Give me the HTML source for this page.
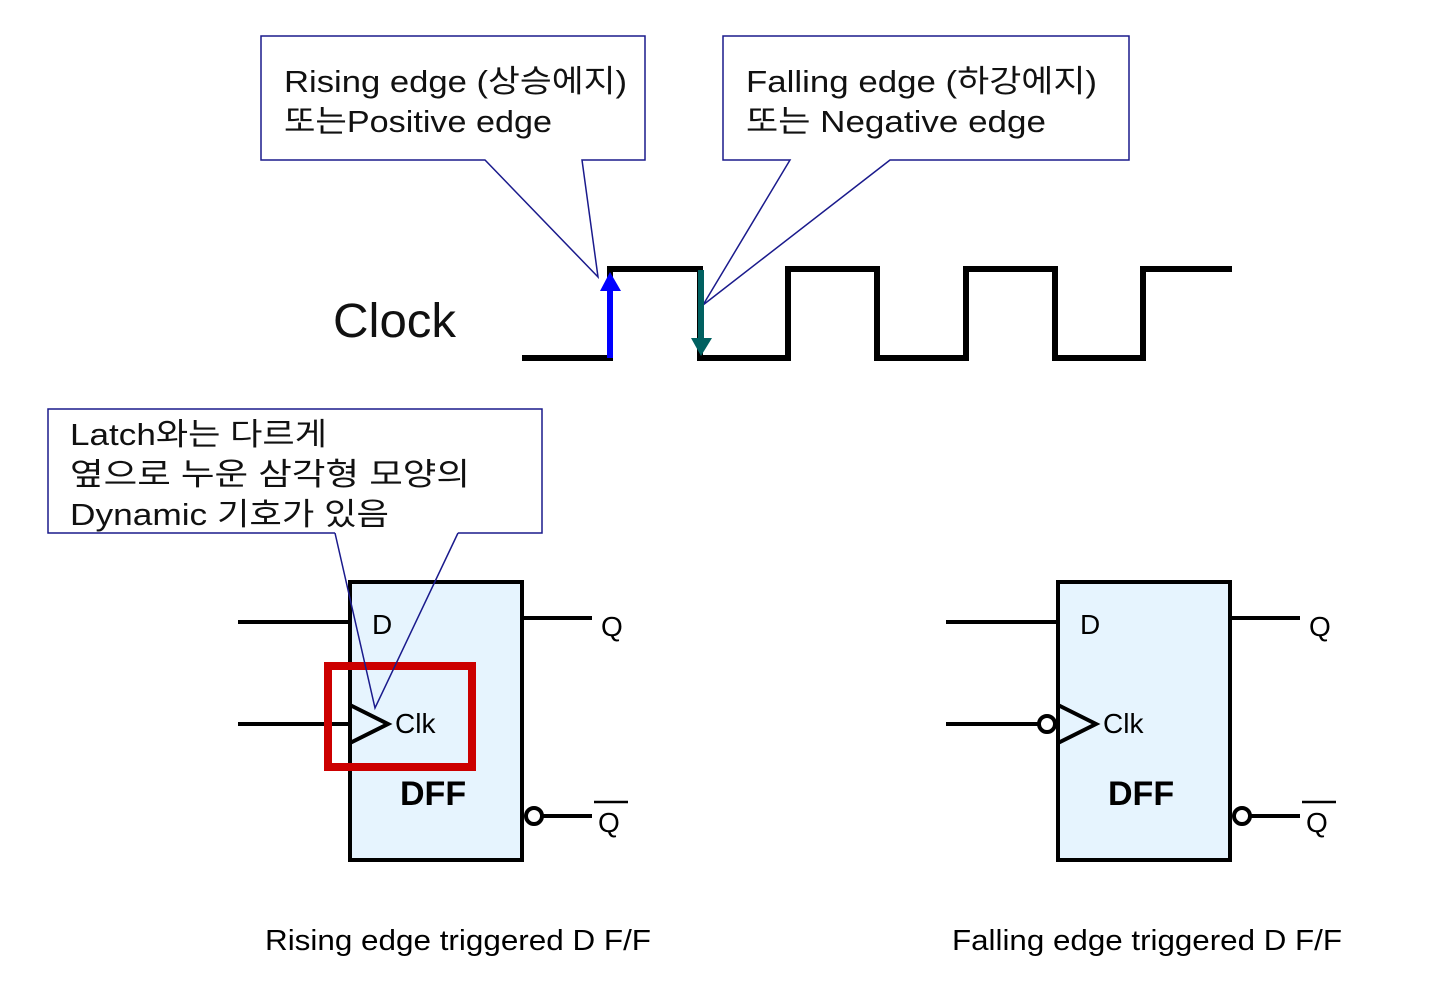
<!DOCTYPE html>
<html><head><meta charset="utf-8"><style>
html,body{margin:0;padding:0;background:#fff}
svg text{font-family:"Liberation Sans","Noto Sans CJK KR",sans-serif}
</style></head><body>
<svg width="1440" height="990" viewBox="0 0 1440 990" xmlns="http://www.w3.org/2000/svg">
<!-- callout 1 -->
<path d="M261,36 H645 V160 H582 L598,277 L485,160 H261 Z" fill="#fff" stroke="#1a1a8c" stroke-width="1.5"/>
<text x="284" y="92" font-size="31" fill="#111" textLength="343" lengthAdjust="spacingAndGlyphs">Rising edge (상승에지)</text>
<text x="284" y="132" font-size="31" fill="#111" textLength="268" lengthAdjust="spacingAndGlyphs">또는Positive edge</text>
<!-- callout 2 -->
<path d="M723,36 H1129 V160 H890 L703,305 L790,160 H723 Z" fill="#fff" stroke="#1a1a8c" stroke-width="1.5"/>
<text x="746" y="92" font-size="31" fill="#111" textLength="351" lengthAdjust="spacingAndGlyphs">Falling edge (하강에지)</text>
<text x="746" y="132" font-size="31" fill="#111" textLength="300" lengthAdjust="spacingAndGlyphs">또는 Negative edge</text>
<!-- Clock -->
<text x="333" y="337" font-size="48" fill="#111" textLength="123" lengthAdjust="spacingAndGlyphs">Clock</text>
<path d="M522,358 H610 V269 H700 V358 H788 V269 H877 V358 H966 V269 H1055 V358 H1143 V269 H1232" fill="none" stroke="#000" stroke-width="6"/>
<line x1="610" y1="358" x2="610" y2="290" stroke="#0000ff" stroke-width="6"/>
<polygon points="600,291 621,291 610,272" fill="#0000ff"/>
<line x1="701" y1="270" x2="701" y2="340" stroke="#006060" stroke-width="6"/>
<polygon points="691,338 712,338 701,356" fill="#006060"/>
<!-- DFF1 -->
<rect x="350" y="582" width="172" height="278" fill="#e6f4fe" stroke="#000" stroke-width="4"/>
<line x1="238" y1="622" x2="350" y2="622" stroke="#000" stroke-width="4"/>
<line x1="238" y1="724" x2="350" y2="724" stroke="#000" stroke-width="4"/>
<polyline points="350,705 388,724 350,743" fill="none" stroke="#000" stroke-width="4"/>
<text x="372" y="634" font-size="28">D</text>
<text x="395" y="733" font-size="28">Clk</text>
<text x="400" y="805" font-size="34" font-weight="bold">DFF</text>
<line x1="522" y1="618" x2="592" y2="618" stroke="#000" stroke-width="4"/>
<text x="601" y="636" font-size="28">Q</text>
<circle cx="534" cy="816" r="8" fill="#fff" stroke="#000" stroke-width="4"/>
<line x1="542" y1="816" x2="592" y2="816" stroke="#000" stroke-width="4"/>
<text x="598" y="832" font-size="28">Q</text>
<line x1="594" y1="802" x2="628" y2="802" stroke="#000" stroke-width="2.5"/>
<rect x="328" y="666" width="144" height="101" fill="none" stroke="#cc0000" stroke-width="8"/>
<!-- callout 3 -->
<path d="M335,533 H48 V409 H542 V533 H458" fill="#fff" stroke="#1a1a8c" stroke-width="1.5"/>
<path d="M335,533 L375,708 L458,533" fill="none" stroke="#1a1a8c" stroke-width="1.5"/>
<text x="70" y="445" font-size="31" fill="#111" textLength="257" lengthAdjust="spacingAndGlyphs">Latch와는 다르게</text>
<text x="70" y="485" font-size="31" fill="#111" textLength="400" lengthAdjust="spacingAndGlyphs">옆으로 누운 삼각형 모양의</text>
<text x="70" y="525" font-size="31" fill="#111" textLength="319" lengthAdjust="spacingAndGlyphs">Dynamic 기호가 있음</text>
<!-- DFF2 -->
<rect x="1058" y="582" width="172" height="278" fill="#e6f4fe" stroke="#000" stroke-width="4"/>
<line x1="946" y1="622" x2="1058" y2="622" stroke="#000" stroke-width="4"/>
<line x1="946" y1="724" x2="1039" y2="724" stroke="#000" stroke-width="4"/>
<circle cx="1047" cy="724" r="8" fill="#fff" stroke="#000" stroke-width="4"/>
<polyline points="1058,705 1096,724 1058,743" fill="none" stroke="#000" stroke-width="4"/>
<text x="1080" y="634" font-size="28">D</text>
<text x="1103" y="733" font-size="28">Clk</text>
<text x="1108" y="805" font-size="34" font-weight="bold">DFF</text>
<line x1="1230" y1="618" x2="1300" y2="618" stroke="#000" stroke-width="4"/>
<text x="1309" y="636" font-size="28">Q</text>
<circle cx="1242" cy="816" r="8" fill="#fff" stroke="#000" stroke-width="4"/>
<line x1="1250" y1="816" x2="1300" y2="816" stroke="#000" stroke-width="4"/>
<text x="1306" y="832" font-size="28">Q</text>
<line x1="1302" y1="802" x2="1336" y2="802" stroke="#000" stroke-width="2.5"/>
<!-- captions -->
<text x="265" y="950" font-size="29" textLength="386" lengthAdjust="spacingAndGlyphs">Rising edge triggered D F/F</text>
<text x="952" y="950" font-size="29" textLength="390" lengthAdjust="spacingAndGlyphs">Falling edge triggered D F/F</text>
</svg>
</body></html>
